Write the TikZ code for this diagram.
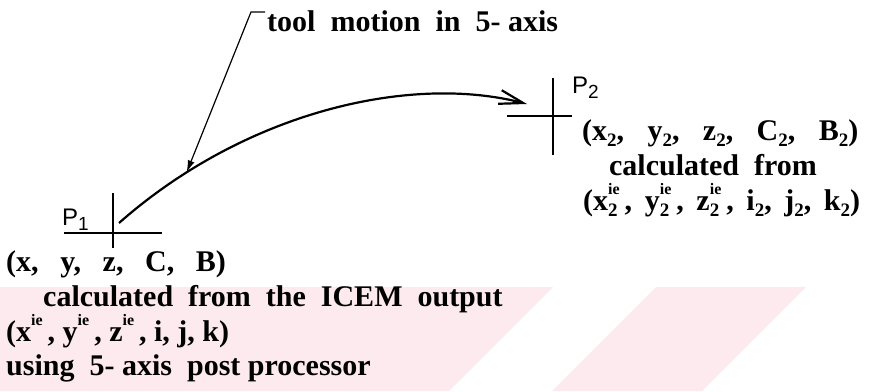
\documentclass[tikz,border=0pt]{standalone}
\usepackage{fontspec}
\setmainfont{Liberation Serif}
\newfontfamily\handfont{Liberation Sans}
\usetikzlibrary{arrows.meta}
\definecolor{wmark}{RGB}{252,234,238}
\newcommand{\wsp}{\hspace{0.72em}}
\newcommand{\wwsp}{\hspace{0.78em}}
\newcommand{\csp}{\hspace{0.42em}}
\newcommand{\sups}[1]{\raisebox{0.52em}{\fontsize{16}{16}\selectfont #1}}
\newcommand{\subs}[1]{\raisebox{-0.22em}{\fontsize{19}{19}\selectfont #1}}
\newcommand{\supsub}[2]{\rlap{\subs{#2}}\sups{#1}}

\begin{document}
\begin{tikzpicture}[x=1pt,y=-1pt,
    txt/.style={font=\bfseries\fontsize{30}{34}\selectfont,inner sep=0pt,anchor=base west},
    ptlbl/.style={font=\handfont\fontsize{24}{28}\selectfont,inner sep=0pt,anchor=base west},
    hair/.style={line width=1.2pt}]
    \useasboundingbox (0,0) rectangle (872,391);
    % pale stripes behind the lower text
    \fill[wmark] (0,287) -- (553,287) -- (449,391) -- (0,391) -- cycle;
    \fill[wmark] (656,287) -- (806,287) -- (702,391) -- (552,391) -- cycle;

    % the two tool positions
    \coordinate (p1) at (113,233);
    \coordinate (p2) at (553,116);
    \draw[hair] (p1) +(-49,0) -- +(49,0) (p1) +(0,-40) -- +(0,15);
    \draw[hair] (p2) +(-46,0) -- +(19,0) (p2) +(0,-38) -- +(0,39);
    \fill (p1) circle (1.8);
    \fill (p2) circle (1.8);
    \node[ptlbl] (lab1) at (62,225) {P\subs{1}};
    \node[ptlbl] (lab2) at (572,93) {P\subs{2}};

    % tool path
    \coordinate (mstart) at (119,223);
    \coordinate (mend) at (527,104);
    \draw[line width=2.2pt,-{Straight Barb[length=24pt,width=14pt]}]
        (mstart) .. controls (246,111) and (411,74) .. (mend) coordinate[pos=0.17] (hit);

    \coordinate (ldtop) at (265,12);
    \draw[hair,-{Latex[length=12pt,width=7pt]}] (ldtop) -- ++(-14,0) -- (hit);
    \node[txt] (motion) at (267,31) {tool~ motion~ in~ 5- axis};

    \node[txt] (pos2) at (582,140) {(x\subs{2},\wwsp y\subs{2},\wwsp z\subs{2},\wwsp C\subs{2},\wwsp B\subs{2})};
    \node[txt,anchor=base] (calc2) at (713,175) {calculated~ from};
    \node[txt] (icem2) at (583,210) {(x\supsub{ie}{2}\,,\csp y\supsub{ie}{2}\,,\csp z\supsub{ie}{2}\,,\csp i\subs{2},\csp j\subs{2},\csp k\subs{2})};

    \node[txt] (pos1) at (6,271) {(x,\wsp y,\wsp z,\wsp C,\wsp B)};
    \node[txt] (calc1) at (43,306) {calculated~ from~ the~ ICEM~ output};
    \node[txt] (icem1) at (6,341) {(x\sups{ie}\,, y\sups{ie}\,, z\sups{ie}\,, i, j, k)};
    \node[txt] (post) at (6,375) {using~ 5- axis~ post processor};
\end{tikzpicture}
\end{document}
